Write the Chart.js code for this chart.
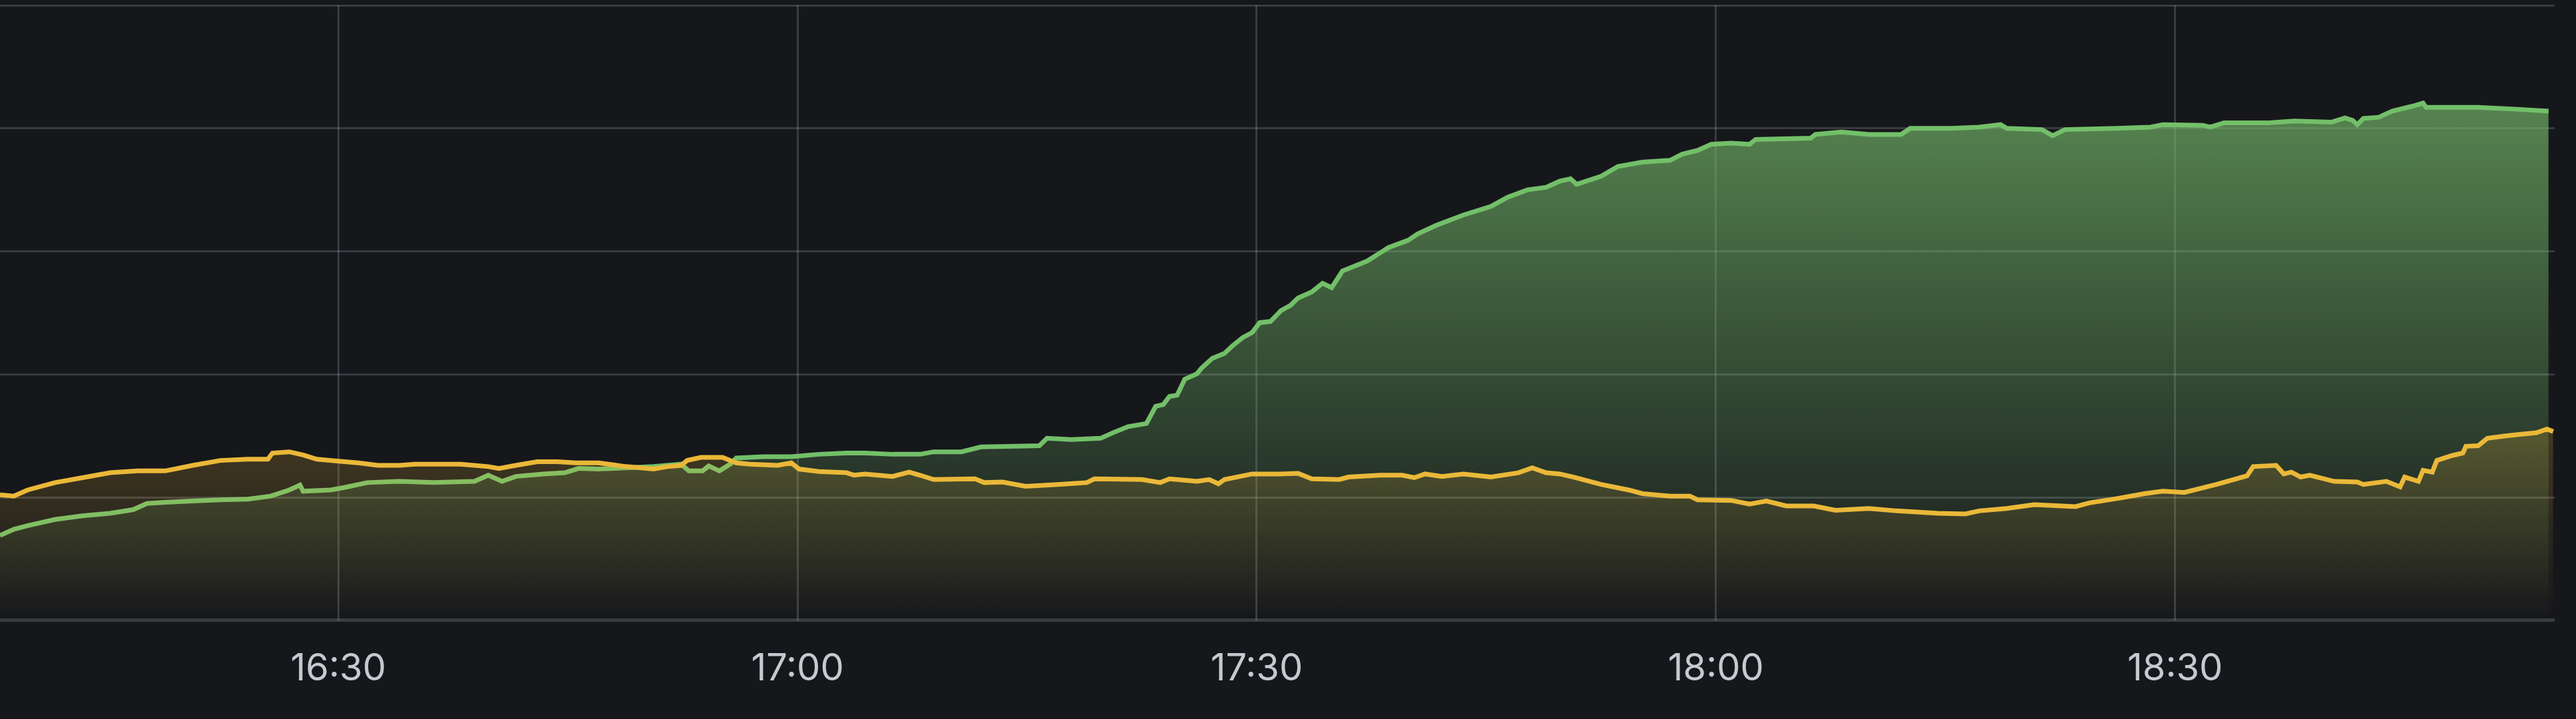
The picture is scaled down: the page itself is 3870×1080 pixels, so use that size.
<!DOCTYPE html>
<html>
<head>
<meta charset="utf-8">
<script src="https://cdn.jsdelivr.net/npm/chart.js"></script>
<style>
  html, body { margin: 0; padding: 0; background: #16171b; }
  #wrap { width: 3870px; height: 1080px; }
</style>
</head>
<body>
<div id="wrap"><canvas id="graph" width="3870" height="1080"></canvas></div>
<script>
// minutes after 16:00
let greenTimes = [7.9, 8.8, 9.7, 11.5, 13.3, 15.1, 16.6, 17.5, 18.7, 20.5, 22.3, 24.1, 25.6, 26.8, 27.5, 27.7, 29.5, 30.4, 31.9, 34.0,
    36.2, 38.9, 39.8, 40.7, 41.6, 43.4, 44.8, 45.7, 47.0, 48.8, 50.6, 52.4, 52.9, 53.8, 54.2, 54.9, 55.6, 56.0, 57.8, 59.6,
    61.4, 63.2, 64.4, 66.2, 68.0, 68.9, 70.7, 72.0, 74.3, 75.8, 76.3, 77.9, 79.8, 80.7, 81.6, 82.8, 83.4, 83.9, 84.3, 84.8,
    85.3, 86.1, 86.4, 87.1, 87.9, 88.4, 89.1, 89.7, 90.2, 90.9, 91.6, 92.2, 92.7, 93.6, 94.3, 94.9, 95.6, 97.2, 98.1, 98.6,
    99.9, 100.5, 101.7, 103.5, 105.3, 106.4, 107.7, 108.9, 109.8, 110.5, 110.9, 112.5, 113.6, 115.2, 117.0, 117.8, 118.8, 119.7, 121.0, 122.2,
    122.6, 126.2, 126.5, 128.2, 130.0, 132.1, 132.7, 135.4, 137.2, 138.6, 139.0, 141.3, 142.0, 142.8, 146.2, 148.4, 149.2, 151.8, 152.3, 153.2,
    156.1, 157.8, 160.2, 161.1, 161.6, 161.9, 162.3, 163.3, 164.2, 165.5, 166.2, 166.4, 169.8, 172.4, 174.4];
let greenValues = [0.69, 0.74, 0.77, 0.82, 0.85, 0.87, 0.90, 0.95, 0.96, 0.97, 0.98, 0.985, 1.01, 1.06, 1.10, 1.05, 1.06, 1.08, 1.12, 1.13,
    1.12, 1.13, 1.18, 1.13, 1.17, 1.19, 1.20, 1.235, 1.23, 1.24, 1.25, 1.27, 1.215, 1.215, 1.255, 1.215, 1.27, 1.32, 1.33, 1.33,
    1.35, 1.36, 1.36, 1.35, 1.35, 1.37, 1.37, 1.41, 1.415, 1.42, 1.48, 1.47, 1.48, 1.53, 1.575, 1.60, 1.74, 1.755, 1.82, 1.83,
    1.96, 2.005, 2.05, 2.13, 2.17, 2.23, 2.30, 2.34, 2.42, 2.43, 2.52, 2.56, 2.62, 2.67, 2.74, 2.705, 2.84, 2.92, 2.99, 3.03,
    3.09, 3.14, 3.21, 3.295, 3.365, 3.44, 3.50, 3.52, 3.57, 3.59, 3.545, 3.61, 3.69, 3.725, 3.74, 3.79, 3.82, 3.87, 3.88, 3.87,
    3.91, 3.92, 3.95, 3.97, 3.95, 3.95, 4.0, 4.0, 4.01, 4.03, 4.0, 3.99, 3.94, 3.99, 4.0, 4.01, 4.03, 4.025, 4.01, 4.045,
    4.045, 4.06, 4.05, 4.085, 4.065, 4.03, 4.08, 4.09, 4.14, 4.18, 4.205, 4.17, 4.17, 4.155, 4.14];

let yellowTimes = [7.9, 8.8, 9.7, 11.5, 13.3, 15.1, 16.9, 18.7, 20.5, 22.3, 24.1, 25.4, 25.7, 26.8, 27.7, 28.6, 30.4, 31.3, 32.6, 34.0,
    35.0, 36.2, 38.0, 39.8, 40.5, 41.6, 43.0, 44.3, 45.5, 47.0, 47.9, 48.8, 50.6, 51.5, 52.4, 52.8, 53.7, 55.1, 56.0, 56.9,
    58.7, 59.6, 60.1, 61.4, 63.2, 63.7, 64.4, 66.2, 67.3, 68.0, 68.9, 71.6, 72.2, 73.4, 74.9, 77.0, 78.9, 79.4, 82.5, 83.7,
    84.3, 86.1, 86.9, 87.5, 87.9, 89.7, 91.5, 92.7, 93.6, 95.4, 96.0, 98.1, 99.5, 100.3, 101.0, 102.1, 103.5, 105.3, 107.1, 108.0,
    108.9, 109.8, 110.7, 112.5, 114.3, 115.2, 117.0, 118.3, 118.8, 121.0, 122.2, 123.3, 124.6, 126.4, 127.8, 130.0, 131.8, 134.5, 136.3, 137.2,
    139.0, 140.8, 143.5, 144.4, 146.2, 147.1, 148.0, 149.2, 150.6, 152.7, 154.7, 155.1, 156.6, 157.1, 157.6, 158.2, 158.8, 160.4, 161.9, 162.3,
    163.8, 164.7, 165.0, 165.9, 166.2, 166.8, 167.1, 168.1, 168.8, 169.0, 169.8, 170.4, 171.6, 172.4, 173.6, 174.3, 174.7];
let yellowValues = [1.02, 1.01, 1.06, 1.12, 1.16, 1.20, 1.215, 1.215, 1.26, 1.30, 1.31, 1.31, 1.36, 1.37, 1.345, 1.31, 1.29, 1.28, 1.26, 1.26,
    1.27, 1.27, 1.27, 1.25, 1.235, 1.26, 1.29, 1.29, 1.28, 1.28, 1.265, 1.25, 1.23, 1.25, 1.26, 1.30, 1.325, 1.325, 1.28, 1.27,
    1.26, 1.28, 1.23, 1.21, 1.20, 1.18, 1.19, 1.17, 1.205, 1.18, 1.145, 1.15, 1.12, 1.125, 1.09, 1.105, 1.12, 1.15, 1.145, 1.12,
    1.15, 1.13, 1.145, 1.11, 1.145, 1.19, 1.19, 1.195, 1.15, 1.145, 1.165, 1.18, 1.18, 1.16, 1.19, 1.17, 1.19, 1.165, 1.20, 1.24,
    1.20, 1.19, 1.165, 1.105, 1.06, 1.03, 1.01, 1.01, 0.98, 0.975, 0.945, 0.97, 0.93, 0.93, 0.895, 0.91, 0.89, 0.87, 0.865, 0.89,
    0.91, 0.94, 0.925, 0.955, 0.99, 1.01, 1.03, 1.05, 1.04, 1.105, 1.175, 1.25, 1.26, 1.19, 1.205, 1.165, 1.18, 1.13, 1.125, 1.105,
    1.13, 1.085, 1.165, 1.13, 1.22, 1.205, 1.30, 1.34, 1.36, 1.415, 1.42, 1.48, 1.50, 1.51, 1.525, 1.555, 1.535];

let tickMinutes = [30, 60, 90, 120, 150];
let tickLabels = ['16:30', '17:00', '17:30', '18:00', '18:30'];

const gridColor = 'rgba(204, 204, 220, 0.2)';

function toPoints(times, values) {
    return times.map((t, i) => ({ x: t, y: values[i] }));
}

// opacity gradient, full colour at the top of the plot, clear at the bottom
function fadeFill(r, g, b, top) {
    return function (context) {
        let area = context.chart.chartArea;
        if (!area) return 'transparent';
        let grad = context.chart.ctx.createLinearGradient(0, area.bottom, 0, area.top);
        grad.addColorStop(0, `rgba(${r}, ${g}, ${b}, 0)`);
        grad.addColorStop(1, `rgba(${r}, ${g}, ${b}, ${top})`);
        return grad;
    };
}

const ctx = document.getElementById('graph');

let chart = new Chart(ctx, {
    type: 'line',
    data: {
        datasets: [{
            label: 'yellow',
            data: toPoints(yellowTimes, yellowValues),
            borderColor: '#eab839',
            backgroundColor: fadeFill(234, 184, 57, 0.7),
            borderWidth: 7,
            fill: 'origin',
            pointRadius: 0,
            tension: 0
        }, {
            label: 'green',
            data: toPoints(greenTimes, greenValues),
            borderColor: '#73bf69',
            backgroundColor: fadeFill(118, 186, 106, 0.8),
            borderWidth: 7,
            fill: 'origin',
            pointRadius: 0,
            tension: 0
        }]
    },
    options: {
        responsive: false,
        animation: false,
        layout: { padding: { top: 8, right: 32, bottom: 1, left: 0 } },
        plugins: {
            legend: { display: false },
            tooltip: { enabled: false }
        },
        scales: {
            x: {
                type: 'linear',
                min: 7.9,
                max: 174.8,
                border: { display: false },
                grid: { color: gridColor, lineWidth: 3, drawTicks: false },
                afterBuildTicks: (scale) => {
                    scale.ticks = tickMinutes.map(v => ({ value: v }));
                },
                ticks: {
                    autoSkip: false,
                    maxRotation: 0,
                    padding: 40,
                    color: '#c7c8d0',
                    font: { family: 'Inter', size: 56 },
                    callback: (value, index) => tickLabels[index]
                }
            },
            y: {
                min: 0,
                max: 5,
                border: { display: false },
                grid: {
                    color: gridColor,
                    lineWidth: (c) => c.tick && c.tick.value === 0 ? 5 : 3,
                    drawTicks: false
                },
                ticks: { display: false, stepSize: 1 }
            }
        }
    }
});
</script>
</body>
</html>
